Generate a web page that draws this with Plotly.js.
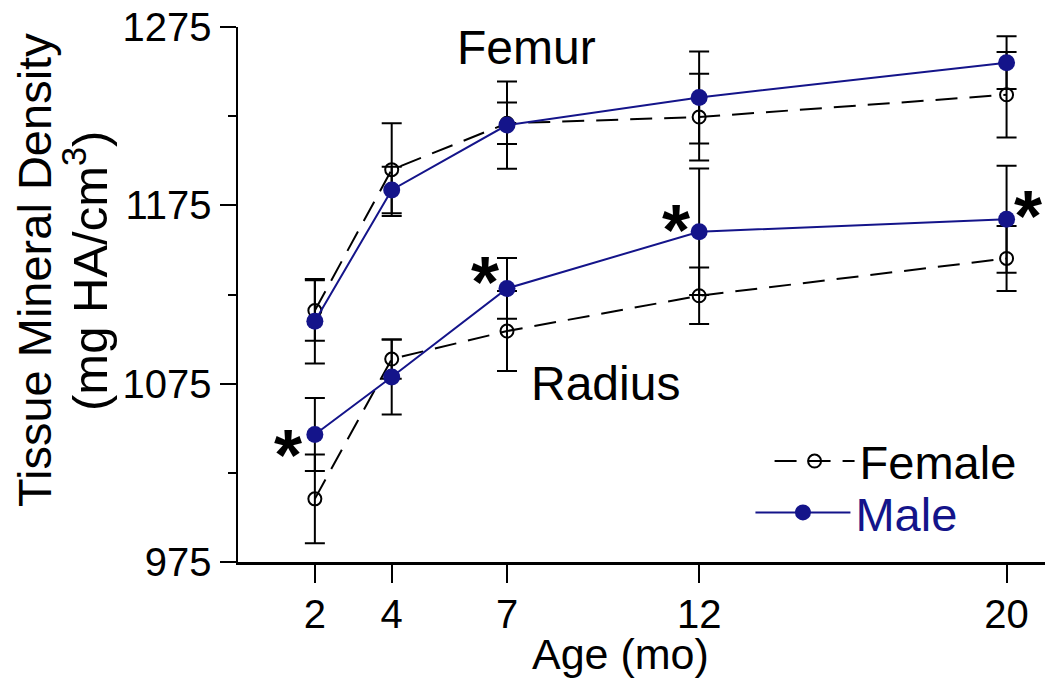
<!DOCTYPE html>
<html>
<head>
<meta charset="utf-8">
<script src="https://cdn.plot.ly/plotly-3.0.1.min.js"></script>
<style>
html,body{margin:0;padding:0;background:#fff;}
#chart{width:1050px;height:683px;}
</style>
</head>
<body>
<div id="chart"></div>
<script>
// Age (months)
var ages = [2, 4, 7, 12, 20];
// Femur
var femurFemale = [1116, 1195, 1221, 1224.5, 1237];
var femurFemaleErr = [17, 26, 11.6, 24.3, 24];
var femurMale = [1110, 1183.6, 1220, 1235.5, 1255];
var femurMaleErr = [23.7, 13, 24.5, 25.8, 14.8];
// Radius
var radiusFemale = [1010.4, 1088.8, 1104.5, 1124.3, 1145.2];
var radiusFemaleErr = [24.9, 11, 22.4, 15.9, 18.2];
var radiusMale = [1046.5, 1078.7, 1128.4, 1160.2, 1167.2];
var radiusMaleErr = [20.5, 21, 17, 35.5, 30];
// Axis ticks
var xTicks = [2, 4, 7, 12, 20];
var yTicks = [975, 1075, 1175, 1275];
var yMinorTicks = [1025, 1125, 1225];
// Significance markers (age, value of male radius)
var starAges = [2, 7, 12, 20];
var starVals = [1046.5, 1128.4, 1160.2, 1167.2];
var starShiftX = [-27, -22, -23, 21];
var starShiftY = [-7, 20, 16, 17];

var NAVY = '#14148a';
var FONT = 'Liberation Sans, Arial, Helvetica, sans-serif';

function errBar(arr) {
  return {type: 'data', array: arr, visible: true, color: '#000', thickness: 2, width: 10};
}

var femaleStyle = {
  mode: 'lines+markers',
  line: {color: '#000', width: 2, dash: '22px,12px'},
  marker: {symbol: 'circle-open', size: 13, color: '#000', line: {width: 2, color: '#000'}}
};
var maleStyle = {
  mode: 'lines+markers',
  line: {color: NAVY, width: 2},
  marker: {symbol: 'circle', size: 17, color: NAVY}
};

var traces = [
  Object.assign({x: ages, y: femurFemale, error_y: errBar(femurFemaleErr), name: 'Female',
    legendgroup: 'f', showlegend: true, legend: 'legend'}, femaleStyle),
  Object.assign({x: ages, y: radiusFemale, error_y: errBar(radiusFemaleErr), name: 'Female',
    legendgroup: 'f', showlegend: false}, femaleStyle),
  Object.assign({x: ages, y: femurMale, error_y: errBar(femurMaleErr),
    name: '<span style="color:' + NAVY + '">Male</span>', legendgroup: 'm', showlegend: true, legend: 'legend2'}, maleStyle),
  Object.assign({x: ages, y: radiusMale, error_y: errBar(radiusMaleErr),
    name: '<span style="color:' + NAVY + '">Male</span>', legendgroup: 'm', showlegend: false}, maleStyle)
];

var annotations = [
  {x: 7.5, y: 1263.7, xref: 'x', yref: 'y', text: 'Femur', showarrow: false,
   font: {family: FONT, size: 48, color: '#000'}},
  {x: 9.57, y: 1075.2, xref: 'x', yref: 'y', text: 'Radius', showarrow: false,
   font: {family: FONT, size: 48, color: '#000'}},
  // axis titles
  {x: (620 - 238) / 807, y: (562 - 654) / 535, xref: 'paper', yref: 'paper', text: 'Age (mo)',
   showarrow: false, xanchor: 'center', yanchor: 'middle',
   font: {family: FONT, size: 43, color: '#000'}},
  {x: (34 - 238) / 807, y: (562 - 270) / 535, xref: 'paper', yref: 'paper', text: 'Tissue Mineral Density',
   showarrow: false, textangle: -90, xanchor: 'center', yanchor: 'middle',
   font: {family: FONT, size: 47, color: '#000'}},
  {x: (86 - 238) / 807, y: (562 - 271) / 535, xref: 'paper', yref: 'paper', text: '(mg HA/cm<sup>3</sup>)',
   showarrow: false, textangle: -90, xanchor: 'center', yanchor: 'middle',
   font: {family: FONT, size: 49, color: '#000'}}
];
for (var i = 0; i < starAges.length; i++) {
  annotations.push({x: starAges[i], y: starVals[i], xref: 'x', yref: 'y', text: '<b>*</b>',
    showarrow: false, xshift: starShiftX[i], yshift: starShiftY[i] - 14,
    font: {family: FONT, size: 72, color: '#000'}});
}

var layout = {
  width: 1050, height: 683,
  margin: {l: 238, r: 5, t: 27, b: 121},
  paper_bgcolor: '#fff', plot_bgcolor: '#fff',
  showlegend: true,
  legend: {x: 0.6587, y: 0.258, xanchor: 'left', yanchor: 'top', bgcolor: 'rgba(0,0,0,0)',
    font: {family: FONT, size: 47, color: '#000'}, itemwidth: 80},
  legend2: {x: 0.635, y: 0.162, xanchor: 'left', yanchor: 'top', bgcolor: 'rgba(0,0,0,0)',
    font: {family: FONT, size: 47, color: NAVY}, itemwidth: 95},
  xaxis: {
    range: [0, 21], tickmode: 'array', tickvals: xTicks, ticktext: xTicks.map(String),
    showgrid: false, zeroline: false, showline: true, linecolor: '#000', linewidth: 2.5,
    ticks: 'outside', ticklen: 18, tickwidth: 2, tickcolor: '#000', ticklabelstandoff: -3,
    tickfont: {family: FONT, size: 40, color: '#000'}
  },
  yaxis: {
    range: [975, 1275], tickmode: 'array', tickvals: yTicks, ticktext: yTicks.map(String),
    showgrid: false, zeroline: false, showline: true, linecolor: '#000', linewidth: 2.5,
    ticks: 'outside', ticklen: 16, tickwidth: 2, tickcolor: '#000',
    minor: {tickmode: 'array', tickvals: yMinorTicks, ticks: 'outside', ticklen: 8, tickwidth: 2, tickcolor: '#000', showgrid: false},
    tickfont: {family: FONT, size: 40, color: '#000'}
  },
  annotations: annotations
};

Plotly.newPlot('chart', traces, layout, {displayModeBar: false, staticPlot: true});
</script>
</body>
</html>
